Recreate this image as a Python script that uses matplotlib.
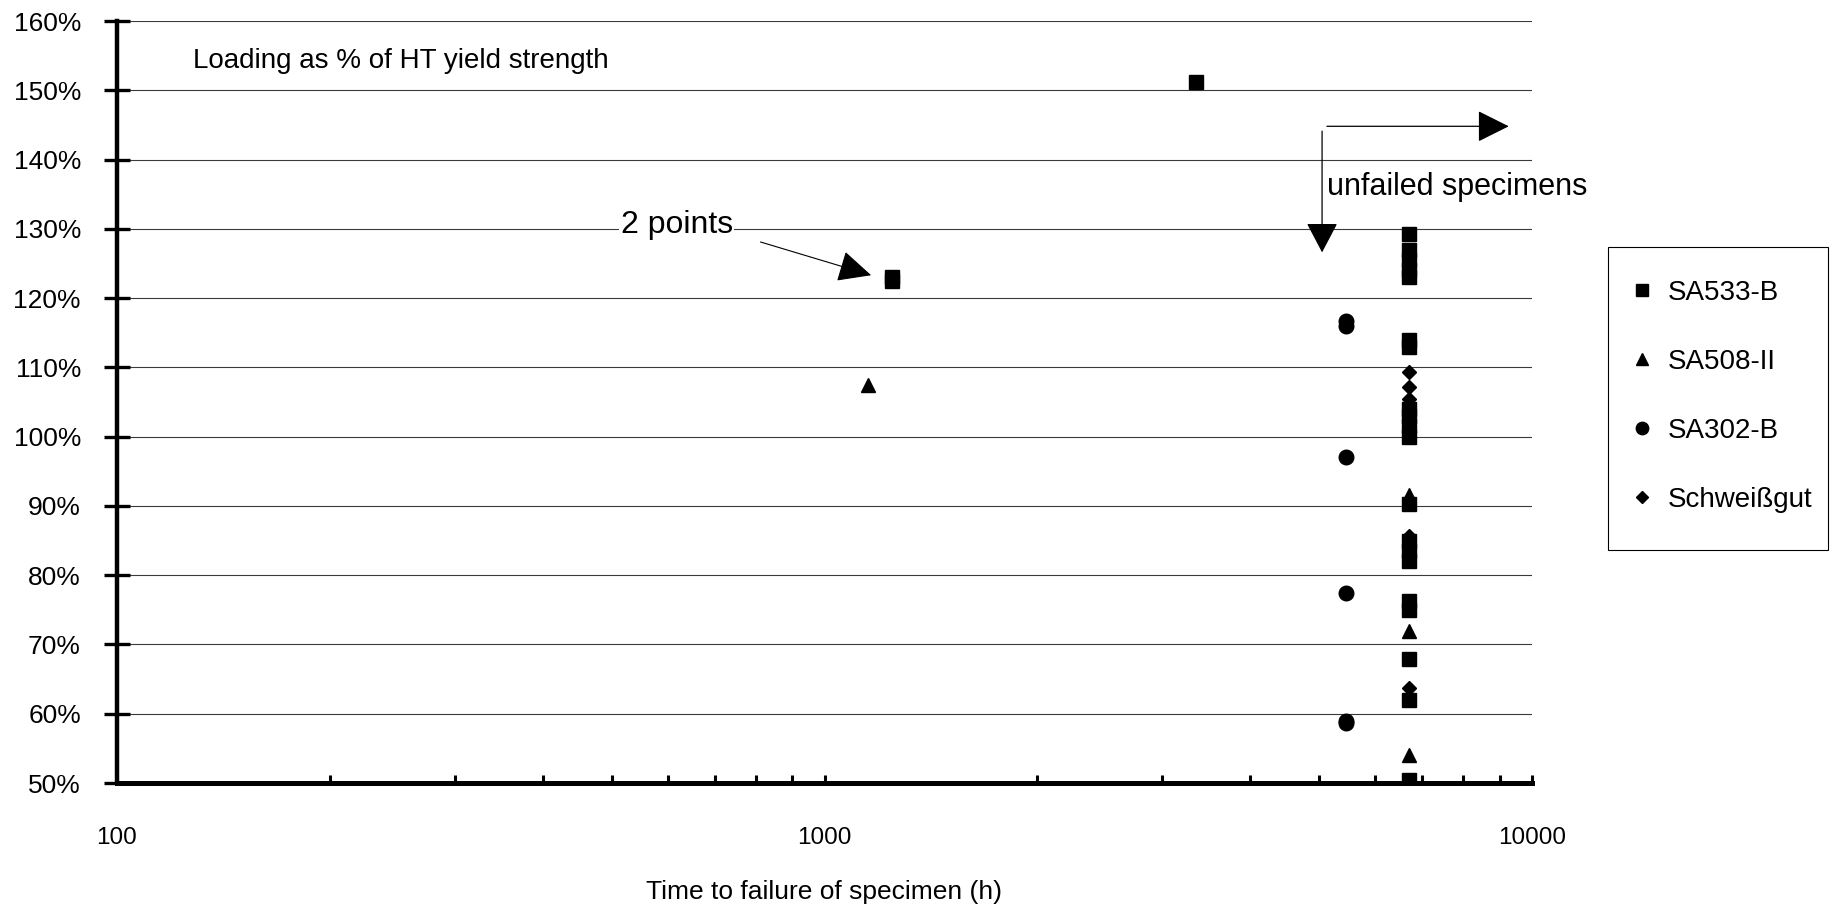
import numpy as np
import matplotlib
matplotlib.use("Agg")
import matplotlib.pyplot as plt
from matplotlib.patches import Rectangle

plt.rcParams['font.family'] = ['Liberation Sans', 'DejaVu Sans']

# Daten (Zeit in h, Belastung in % der HT-Streckgrenze)
sa533_x = [3350, 1247, 1247, 6700, 6700, 6700, 6700, 6700, 6700, 6700, 6700, 6700,
           6700, 6700, 6700, 6700, 6700, 6700, 6700, 6700, 6700, 6700, 6700]
sa533_y = [151.2, 122.5, 123.0, 129.3, 127.0, 125.5, 124.0, 123.0, 114.0, 113.0,
           104.0, 103.0, 101.5, 100.0, 90.3, 85.0, 83.5, 82.0, 76.3, 75.0, 67.9,
           62.0, 50.5]
sa508_x = [1151, 6700, 6700, 6700]
sa508_y = [107.5, 91.6, 72.0, 54.1]
sa302_x = [5460, 5460, 5460, 5460, 5460, 5460]
sa302_y = [116.7, 115.9, 97.0, 77.4, 58.9, 58.6]
schweiss_x = [6700, 6700, 6700, 6700, 6700]
schweiss_y = [109.3, 107.2, 105.5, 85.6, 63.7]

y_ticks = [50, 60, 70, 80, 90, 100, 110, 120, 130, 140, 150, 160]
y_tick_labels = [f"{v}%" for v in y_ticks]
x_ticks = [100, 1000, 10000]
x_tick_labels = ["100", "1000", "10000"]

W, H = 1836, 910
fig = plt.figure(figsize=(W / 100, H / 100), dpi=100)
ax = fig.add_axes([117 / W, 1 - 783 / H, (1532 - 117) / W, (783 - 21) / H])

ax.plot(sa533_x, sa533_y, 's', color='black', ms=9.5, label='SA533-B', zorder=5)
ax.plot(sa508_x, sa508_y, '^', color='black', ms=10.5, label='SA508-II', zorder=5)
ax.plot(sa302_x, sa302_y, 'o', color='black', ms=10.5, label='SA302-B', zorder=5)
ax.plot(schweiss_x, schweiss_y, 'D', color='black', ms=7, label='Schweißgut', zorder=5)

ax.set_xscale('log')
ax.set_xlim(100, 10000)
ax.set_ylim(50, 160)

ax.set_yticks(y_ticks)
ax.set_yticklabels(y_tick_labels, fontsize=19)
ax.set_xticks(x_ticks)
ax.set_xticklabels(x_tick_labels, fontsize=17.5)
ax.xaxis.set_minor_formatter(matplotlib.ticker.NullFormatter())

ax.tick_params(axis='y', direction='inout', length=19, width=2.4, pad=16.5)
ax.tick_params(axis='x', which='both', direction='in', length=6, width=2.2, pad=32)

ax.yaxis.grid(True, color='#3a3a3a', linewidth=0.8)
ax.set_axisbelow(True)

for s in ['top', 'right']:
    ax.spines[s].set_visible(False)
ax.spines['left'].set_linewidth(3.2)
ax.spines['bottom'].set_linewidth(3.6)

ax.set_xlabel('Time to failure of specimen (h)', fontsize=19, labelpad=22)

ax.text(128, 154.2, 'Loading as % of HT yield strength', fontsize=20, va='center', ha='left')

ax.text(515, 130.5, '2 points', fontsize=23, va='center', ha='left',
        bbox=dict(facecolor='white', edgecolor='none', pad=1))
ax.annotate('', xy=(1164, 123.3), xytext=(812, 128.1),
            arrowprops=dict(arrowstyle='-|>,head_length=1.05,head_width=0.5',
                            mutation_scale=20, lw=0.8, color='black',
                            shrinkA=0, shrinkB=0))

ax.text(5134, 136.0, 'unfailed specimens', fontsize=22, va='center', ha='left')
ax.annotate('', xy=(5050, 126.6), xytext=(5050, 144.1),
            arrowprops=dict(arrowstyle='-|>,head_length=0.95,head_width=0.5',
                            mutation_scale=20, lw=0.9, color='black',
                            shrinkA=0, shrinkB=0))
ax.annotate('', xy=(9270, 144.8), xytext=(5130, 144.8),
            arrowprops=dict(arrowstyle='-|>,head_length=1.0,head_width=0.5',
                            mutation_scale=20, lw=0.9, color='black',
                            shrinkA=0, shrinkB=0))

# Legende ohne eigenen Rahmen, Rahmen separat
leg = ax.legend(loc='upper left', bbox_to_anchor=(1629.5 / W, 1 - 279.5 / H),
                bbox_transform=fig.transFigure, fontsize=20, frameon=False,
                markerscale=0.85, handlelength=0.9, handletextpad=0.49,
                labelspacing=1.55, borderpad=0, borderaxespad=0)
fig.patches.append(Rectangle((1608 / W, 1 - 550 / H), 220 / W, 303 / H,
                             transform=fig.transFigure, fill=False,
                             edgecolor='black', linewidth=0.8))

fig.savefig('out.png', dpi=100)
